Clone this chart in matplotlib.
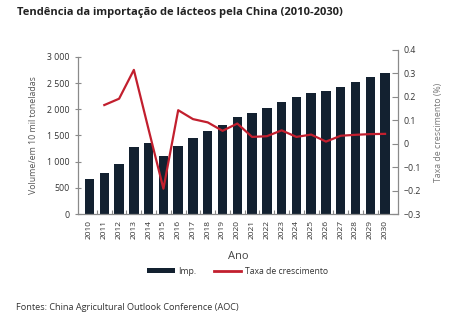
import numpy as np
import matplotlib.pyplot as plt
from matplotlib.lines import Line2D
from matplotlib.patches import Patch

plt.rcParams['font.family'] = ['Open Sans', 'DejaVu Sans']

years = [str(y) for y in range(2010, 2031)]
imports = [662, 777, 949, 1274, 1350, 1102, 1293, 1446, 1586, 1694, 1847,
           1924, 2019, 2134, 2229, 2306, 2344, 2420, 2516, 2611, 2694]
# growth starts in 2011
growth = [np.nan, 0.165, 0.192, 0.315, 0.06, -0.192, 0.143, 0.105, 0.091,
          0.055, 0.086, 0.029, 0.032, 0.057, 0.029, 0.039, 0.009, 0.034,
          0.038, 0.041, 0.042]
left_ticks = [0, 500, 1000, 1500, 2000, 2500, 3000]
left_labels = ['0', '500', '1 000', '1 500', '2 000', '2 500', '3 000']
right_ticks = [-0.3, -0.2, -0.1, 0, 0.1, 0.2, 0.3, 0.4]
right_labels = ['\u22120.3', '\u22120.2', '\u22120.1', '0', '0.1', '0.2', '0.3', '0.4']

bar_color = '#132130'
line_color = '#C21F2E'
spine_color = '#8a8a8a'
text_color = '#333333'

fig = plt.figure(figsize=(4.70, 3.21), dpi=100)
ax = fig.add_axes([0.1666, 0.3333, 0.681, 0.511])
ax2 = ax.twinx()

x = np.arange(len(years))
ax.bar(x, imports, width=0.64, color=bar_color, zorder=2)
ax2.plot(x, growth, color=line_color, lw=1.6, zorder=3)

ax.set_xlim(-0.76, 20.9)
ax.set_ylim(0, 3000 * 164 / 157)
ax2.set_ylim(-0.3, 0.4)

for a in (ax, ax2):
    for s in a.spines.values():
        s.set_visible(False)
ax.spines['left'].set_visible(True)
ax.spines['left'].set_bounds(0, 3000)
ax.spines['bottom'].set_visible(True)
ax2.spines['right'].set_visible(True)
for s in (ax.spines['left'], ax.spines['bottom'], ax2.spines['right']):
    s.set_color(spine_color)
    s.set_linewidth(0.9)

ax.set_yticks(left_ticks)
ax.set_yticklabels(left_labels)
ax.tick_params(axis='y', direction='inout', length=4, width=0.8,
               color=spine_color, labelsize=6.3, labelcolor=text_color, pad=4)

ax.set_xticks(x)
ax.set_xticklabels(years, rotation=90, fontsize=6, color=text_color)
ax.tick_params(axis='x', which='major', length=0, pad=4)
ax.set_xticks(np.arange(0.5, 20, 1), minor=True)
ax.tick_params(axis='x', which='minor', direction='in', length=3, width=0.8,
               color=spine_color)

ax2.set_yticks(right_ticks)
ax2.set_yticklabels(right_labels)
ax2.tick_params(axis='y', direction='in', length=4, width=0.8,
                color=spine_color, labelsize=6.3, labelcolor=text_color, pad=4)

ax.set_ylabel('Volume/em 10 mil toneladas', fontsize=6.3, color='#555555')
ax.yaxis.set_label_coords(-0.125, 0.5 * 3000 / (3000 * 164 / 157))
ax2.set_ylabel('Taxa de crescimento (%)', fontsize=6.3, color='#777777',
               labelpad=9)
ax.set_xlabel('Ano', fontsize=8, color='#444444', labelpad=9)

handles = [Patch(facecolor=bar_color, edgecolor='none'),
           Line2D([0], [0], color=line_color, lw=2)]
fig.legend(handles, ['Imp.', 'Taxa de crescimento'], loc='center',
           bbox_to_anchor=(237.5 / 470, 1 - 271 / 321), ncol=2, frameon=False,
           fontsize=6.2, handlelength=3.2, handleheight=0.6,
           columnspacing=2.0, handletextpad=0.4, labelcolor=text_color)

fig.text(17 / 470, 1 - 13 / 321,
         'Tendência da importação de lácteos pela China (2010-2030)',
         fontsize=8.0, fontweight='bold', color='#222222', va='center')
fig.text(16 / 470, 1 - 308 / 321,
         'Fontes: China Agricultural Outlook Conference (AOC)',
         fontsize=6.6, color='#333333', va='center')

fig.savefig('out.png', dpi=100)
